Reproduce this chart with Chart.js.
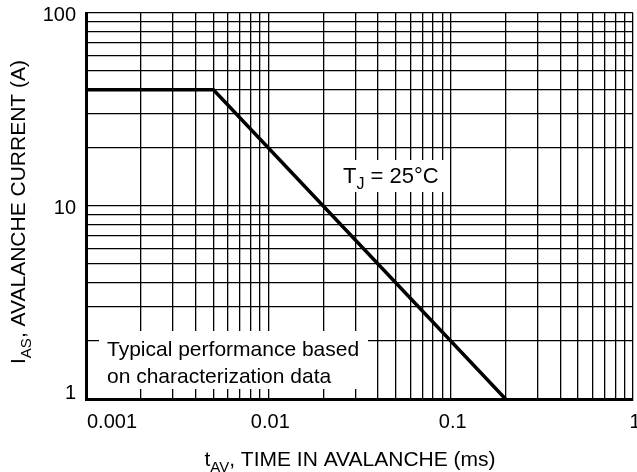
<!DOCTYPE html>
<html>
<head>
<meta charset="utf-8">
<script src="https://cdn.jsdelivr.net/npm/chart.js@4/dist/chart.umd.min.js"></script>
<style>
  html, body { margin: 0; padding: 0; background: #fff; }
  #chart { display: block; }
</style>
</head>
<body>
<canvas id="chart" width="637" height="472"></canvas>
<script>
// --- Data ---
const times = [0.001, 0.005, 0.2];      // t_AV (ms)
const currents = [40, 40, 1];           // I_AS (A)
const xTickLabels = ['0.001', '0.01', '0.1', '1'];
const yTickLabels = ['1', '10', '100'];

const FONT = '"Liberation Sans", Arial, Helvetica, sans-serif';

// gridlines at 1..9 of every decade
function decadeTicks(min, max) {
  const out = [];
  for (let d = min; d < max * 0.999; d *= 10) {
    for (let m = 1; m < 10; m++) out.push(+(d * m).toPrecision(3));
  }
  out.push(max);
  return out;
}

// draw text made of normal and subscript parts
function richText(ctx, parts, x, y, size, align) {
  const subSize = Math.round(size * 0.72);
  const widths = parts.map(p => {
    ctx.font = (p[1] ? subSize : size) + 'px ' + FONT;
    return ctx.measureText(p[0]).width;
  });
  const total = widths.reduce((a, b) => a + b, 0);
  let cx = align === 'center' ? x - total / 2 : x;
  ctx.textAlign = 'left';
  ctx.textBaseline = 'alphabetic';
  parts.forEach((p, i) => {
    ctx.font = (p[1] ? subSize : size) + 'px ' + FONT;
    ctx.fillText(p[0], cx, y + (p[1] ? size * 0.28 : 0));
    cx += widths[i];
  });
}

const textPlugin = {
  id: 'texts',
  beforeDatasetsDraw(chart) {
    // white boxes behind the annotations hide the grid
    const ctx = chart.ctx;
    const a = chart.chartArea;
    ctx.save();
    ctx.fillStyle = '#fff';
    ctx.fillRect(a.left + 13, a.bottom - 68, 269, 58);
    ctx.fillRect(a.left + 240, a.top + 147, 121, 32);
    ctx.restore();
  },
  afterDraw(chart) {
    const ctx = chart.ctx;
    const a = chart.chartArea;
    const xs = chart.scales.x;
    const ys = chart.scales.y;
    ctx.save();
    ctx.fillStyle = '#000';

    // x tick labels
    ctx.font = '20px ' + FONT;
    ctx.textBaseline = 'alphabetic';
    xTickLabels.forEach((lab, i) => {
      const px = xs.getPixelForValue(Number(lab));
      if (i === 0) {
        ctx.textAlign = 'left';
        ctx.fillText(lab, px + 1, a.bottom + 29);
      } else {
        ctx.textAlign = 'center';
        ctx.fillText(lab, px + 2, a.bottom + 29);
      }
    });

    // y tick labels
    ctx.textAlign = 'right';
    yTickLabels.forEach((lab, i) => {
      const py = ys.getPixelForValue(Number(lab));
      ctx.fillText(lab, a.left - 10, i === 0 ? py : py + 8);
    });

    // axis titles
    richText(ctx, [['t'], ['AV', true], [', TIME IN AVALANCHE (ms)']],
      350, a.bottom + 67, 21, 'center');
    ctx.save();
    ctx.translate(25, 212);
    ctx.rotate(-Math.PI / 2);
    richText(ctx, [['I'], ['AS', true], [', AVALANCHE CURRENT (A)']],
      0, 0, 21, 'center');
    ctx.restore();

    // annotations
    richText(ctx, [['T'], ['J', true], [' = 25°C']], a.left + 257, a.top + 170, 22, 'left');
    ctx.font = '21px ' + FONT;
    ctx.textAlign = 'left';
    ctx.fillText('Typical performance based', a.left + 21, a.bottom - 43);
    ctx.fillText('on characterization data', a.left + 21, a.bottom - 16);
    ctx.restore();
  }
};

const gridOpts = { color: '#000', lineWidth: 1.3, drawTicks: false };

new Chart(document.getElementById('chart'), {
  type: 'line',
  data: {
    datasets: [{
      data: times.map((t, i) => ({ x: t, y: currents[i] })),
      borderColor: '#000',
      borderWidth: 3.5,
      pointRadius: 0,
      tension: 0,
      fill: false
    }]
  },
  options: {
    responsive: false,
    animation: false,
    layout: { padding: { left: 86, top: 13, right: 4, bottom: 73 } },
    plugins: { legend: { display: false }, tooltip: { enabled: false } },
    scales: {
      x: {
        type: 'logarithmic',
        min: 0.001,
        max: 1,
        afterBuildTicks: axis => { axis.ticks = decadeTicks(0.001, 1).map(v => ({ value: v })); },
        ticks: { display: false },
        grid: gridOpts,
        border: { color: '#000', width: 3 }
      },
      y: {
        type: 'logarithmic',
        min: 1,
        max: 100,
        afterBuildTicks: axis => { axis.ticks = decadeTicks(1, 100).map(v => ({ value: v })); },
        ticks: { display: false },
        grid: gridOpts,
        border: { color: '#000', width: 3 }
      }
    }
  },
  plugins: [textPlugin]
});
</script>
</body>
</html>
